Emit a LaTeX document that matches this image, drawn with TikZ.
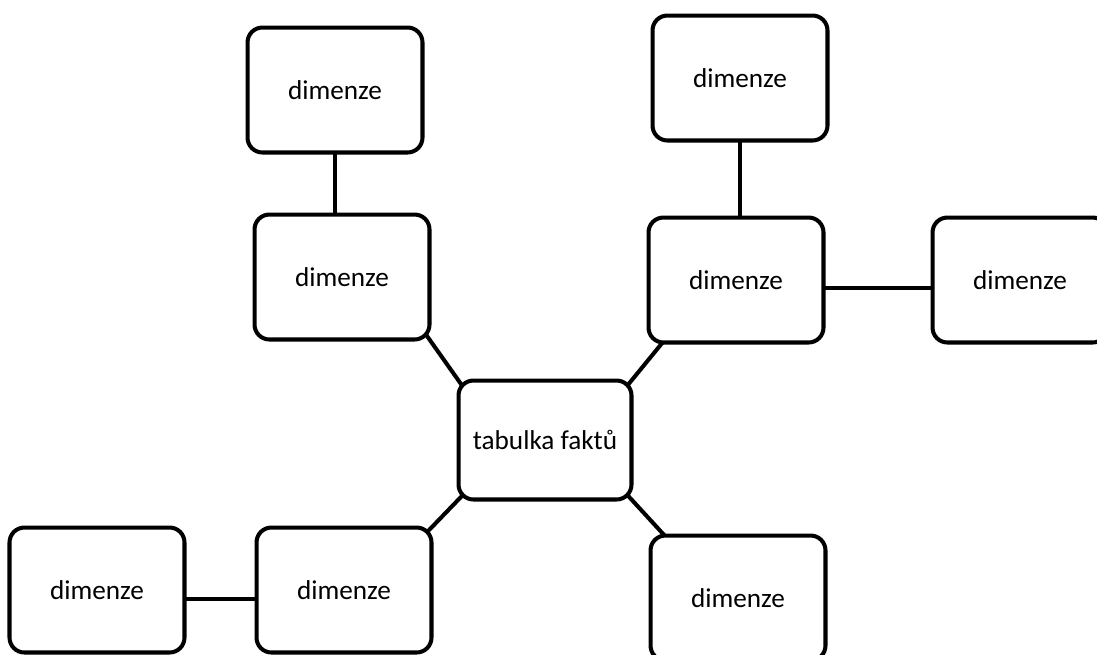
\documentclass[tikz,border=0pt]{standalone}
\usepackage{fontspec}
\setmainfont{Carlito}
\begin{document}
\begin{tikzpicture}[
    x=0.02cm, y=-0.02cm,
    dim/.style={draw, rectangle, rounded corners=8.5pt, line width=2.3pt, outer sep=0pt, minimum width=3.5cm, minimum height=2.5cm, align=center, font=\fontsize{15.5}{18}\selectfont},
    fact/.style={dim, minimum width=3.46cm, minimum height=2.38cm},
    link/.style={line width=2.3pt},
    corner/.style={shorten <=-3.5pt, shorten >=-3.5pt}
]
    \useasboundingbox (0,0) rectangle (1097,654);
    % star: fact table in the middle, dimensions around it
    \node[fact] (fact) at (545,440) {tabulka faktů};
    \node[dim] (ltop) at (335,90) {dimenze};
    \node[dim] (lmid) at (342,277) {dimenze};
    \node[dim] (rtop) at (740,78) {dimenze};
    \node[dim] (rmid) at (736,280) {dimenze};
    \node[dim] (rside) at (1020,280) {dimenze};
    \node[dim] (bside) at (97,590) {dimenze};
    \node[dim] (bmid) at (344,590) {dimenze};
    \node[dim] (bright) at (738,598) {dimenze};

    \draw[link] (ltop) -- (ltop |- lmid.north);
    \draw[link] (rtop) -- (rtop |- rmid.north);
    \draw[link] ([yshift=-4.5pt]rmid.east) -- ([yshift=-4.5pt]rside.west);
    \draw[link] ([yshift=-5pt]bside.east) -- ([yshift=-5pt]bmid.west);
    \draw[link, corner] (lmid.south east) -- (fact.north west);
    \draw[link, shorten >=-3.5pt] ([xshift=8pt]rmid.south west) -- (fact.north east);
    \draw[link, corner] (fact.south west) -- (bmid.north east);
    \draw[link, shorten <=-3.5pt] (fact.south east) -- ([xshift=8pt]bright.north west);
\end{tikzpicture}
\end{document}
